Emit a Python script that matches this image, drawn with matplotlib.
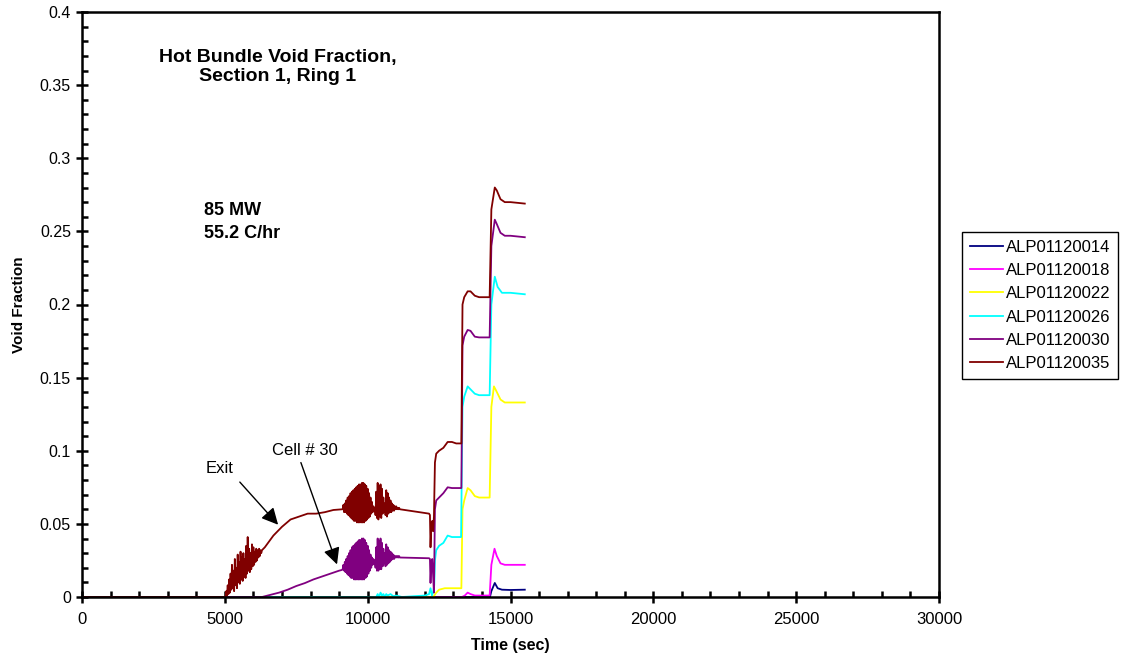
import numpy as np
import matplotlib
matplotlib.use("Agg")
import matplotlib.pyplot as plt
from matplotlib.ticker import MultipleLocator, FormatStrFormatter

plt.rcParams['font.family'] = ['Liberation Sans', 'DejaVu Sans']

# ---- data (time in sec, void fraction) ----
labels = ['ALP01120014', 'ALP01120018', 'ALP01120022',
          'ALP01120026', 'ALP01120030', 'ALP01120035']
colors = ['#000080', '#ff00ff', '#ffff00', '#00ffff', '#800080', '#800000']

# Exit (ALP01120035)
exit_t_start = [0, 5000]
exit_v_start = [0.0, 0.0]
exit_t_noise = np.arange(5025, 6301, 25)
exit_v_noise = [0.000, 0.004, 0.001, 0.008, 0.002, 0.012, 0.003, 0.016, 0.005, 0.022,
                0.006, 0.018, 0.004, 0.026, 0.008, 0.020, 0.006, 0.029, 0.010, 0.024,
                0.009, 0.031, 0.012, 0.027, 0.011, 0.030, 0.014, 0.026, 0.013, 0.035,
                0.016, 0.041, 0.018, 0.033, 0.017, 0.030, 0.019, 0.036, 0.021, 0.034,
                0.022, 0.031, 0.024, 0.033, 0.025, 0.032, 0.027, 0.033, 0.028, 0.032,
                0.030, 0.032]
exit_t_rise = [6400, 6700, 7000, 7300, 7600, 7900, 8200, 8500, 8800, 9100]
exit_v_rise = [0.034, 0.042, 0.048, 0.053, 0.055, 0.057, 0.057, 0.058, 0.0595, 0.060]
exit_t_osc = np.arange(9125, 11126, 25)
exit_v_osc = [0.060, 0.063, 0.058, 0.064, 0.058, 0.066, 0.057, 0.068, 0.056, 0.069,
              0.055, 0.071, 0.054, 0.072, 0.053, 0.073, 0.052, 0.074, 0.052, 0.075,
              0.051, 0.076, 0.051, 0.077, 0.051, 0.077, 0.051, 0.078, 0.051, 0.078,
              0.051, 0.077, 0.052, 0.076, 0.053, 0.074, 0.054, 0.071, 0.055, 0.068,
              0.057, 0.065, 0.058, 0.062, 0.060, 0.061, 0.056, 0.072, 0.054, 0.078,
              0.053, 0.076, 0.055, 0.077, 0.054, 0.074, 0.057, 0.068, 0.058, 0.064,
              0.056, 0.073, 0.055, 0.071, 0.057, 0.068, 0.058, 0.066, 0.058, 0.064,
              0.059, 0.063, 0.059, 0.062, 0.060, 0.062, 0.060, 0.061, 0.060, 0.061,
              0.060]
exit_t_end = [12150, 12180, 12200, 12230, 12260, 12290, 12320, 12355, 12400, 12500,
              12650, 12800, 12950, 13100, 13280, 13320, 13380, 13500, 13600, 13750,
              13900, 14050, 14270, 14330, 14450, 14520, 14650, 14800, 15000, 15500]
exit_v_end = [0.057, 0.056, 0.034, 0.050, 0.052, 0.045, 0.055, 0.092, 0.098, 0.100,
              0.102, 0.106, 0.106, 0.105, 0.105, 0.200, 0.205, 0.209, 0.209, 0.206,
              0.205, 0.205, 0.205, 0.265, 0.280, 0.278, 0.272, 0.270, 0.270, 0.269]

# Cell 30 (ALP01120030)
c30_t_rise = [0, 6300, 6600, 6900, 7200, 7500, 7800, 8100, 8400, 8700, 9000, 9100]
c30_v_rise = [0.0, 0.0, 0.0015, 0.003, 0.005, 0.0075, 0.0095, 0.012, 0.014, 0.016,
              0.018, 0.0185]
c30_t_osc = np.arange(9125, 11126, 25)
c30_v_osc = [0.019, 0.022, 0.018, 0.024, 0.017, 0.026, 0.016, 0.028, 0.015, 0.030,
             0.014, 0.032, 0.013, 0.034, 0.013, 0.035, 0.012, 0.036, 0.012, 0.037,
             0.012, 0.038, 0.012, 0.039, 0.012, 0.039, 0.012, 0.040, 0.012, 0.040,
             0.012, 0.039, 0.013, 0.037, 0.014, 0.035, 0.016, 0.032, 0.018, 0.029,
             0.020, 0.027, 0.022, 0.026, 0.023, 0.025, 0.020, 0.034, 0.018, 0.040,
             0.018, 0.038, 0.019, 0.040, 0.019, 0.037, 0.021, 0.033, 0.023, 0.030,
             0.021, 0.036, 0.022, 0.034, 0.023, 0.032, 0.024, 0.031, 0.025, 0.030,
             0.026, 0.029, 0.026, 0.028, 0.027, 0.028, 0.027, 0.028, 0.027, 0.028,
             0.027]
c30_t_end = [12150, 12180, 12200, 12230, 12260, 12290, 12320, 12355, 12400, 12500,
             12650, 12800, 12950, 13100, 13280, 13320, 13380, 13500, 13600, 13750,
             13900, 14050, 14270, 14330, 14450, 14520, 14650, 14800, 15000, 15500]
c30_v_end = [0.0265, 0.026, 0.0096, 0.024, 0.026, 0.015, 0.003, 0.060, 0.066, 0.068,
             0.071, 0.075, 0.0745, 0.0745, 0.0745, 0.172, 0.178, 0.1826, 0.182, 0.178,
             0.1775, 0.1775, 0.1775, 0.240, 0.258, 0.255, 0.249, 0.247, 0.247, 0.246]

c26_t = [0, 10300, 10350, 10400, 10450, 10500, 10550, 10600, 10650, 10700, 10800,
         10900, 11000, 11200, 11600, 12000, 12150, 12200, 12250, 12300, 12330, 12355,
         12400, 12500, 12650, 12800, 12950, 13100, 13270, 13320, 13380, 13500, 13600,
         13750, 13900, 14100, 14270, 14330, 14450, 14550, 14700, 15000, 15500]
c26_v = [0.0, 0.0, 0.002, 0.0, 0.003, 0.001, 0.002, 0.0, 0.002, 0.001, 0.002,
         0.0005, 0.001, 0.0, 0.0005, 0.001, 0.002, 0.006, 0.001, 0.004, 0.008, 0.025,
         0.032, 0.035, 0.037, 0.042, 0.041, 0.041, 0.041, 0.130, 0.137, 0.144, 0.142,
         0.139, 0.138, 0.138, 0.138, 0.200, 0.219, 0.212, 0.208, 0.208, 0.207]

c22_t = [0, 12300, 12400, 12500, 12700, 13000, 13280, 13320, 13380, 13500, 13600,
         13750, 13900, 14100, 14270, 14330, 14420, 14500, 14650, 14800, 15000, 15500]
c22_v = [0.0, 0.0, 0.003, 0.005, 0.006, 0.006, 0.006, 0.060, 0.066, 0.0745, 0.073,
         0.069, 0.068, 0.068, 0.068, 0.130, 0.144, 0.141, 0.135, 0.133, 0.133, 0.133]

c18_t = [0, 13300, 13400, 13500, 13600, 13750, 14000, 14270, 14330, 14440, 14520,
         14650, 14800, 15000, 15500]
c18_v = [0.0, 0.0, 0.001, 0.003, 0.002, 0.001, 0.001, 0.001, 0.022, 0.033, 0.028,
         0.023, 0.022, 0.022, 0.022]

c14_t = [0, 14280, 14330, 14450, 14550, 14700, 15000, 15500]
c14_v = [0.0, 0.0, 0.004, 0.0096, 0.006, 0.005, 0.0048, 0.005]

series = [
    (c14_t, c14_v),
    (c18_t, c18_v),
    (c22_t, c22_v),
    (c26_t, c26_v),
    (np.concatenate([c30_t_rise, c30_t_osc, c30_t_end]),
     np.concatenate([c30_v_rise, c30_v_osc, c30_v_end])),
    (np.concatenate([exit_t_start, exit_t_noise, exit_t_rise, exit_t_osc, exit_t_end]),
     np.concatenate([exit_v_start, exit_v_noise, exit_v_rise, exit_v_osc, exit_v_end])),
]

# ---- figure ----
fig = plt.figure(figsize=(11.21, 6.57), dpi=100)
ax = fig.add_axes([82 / 1121, 1 - 597 / 657, (939 - 82) / 1121, (597 - 12) / 657])

for (t, v), lab, col in zip(series, labels, colors):
    ax.plot(t, v, color=col, lw=1.3, label=lab)

ax.set_xlim(0, 30000)
ax.set_ylim(0, 0.4)
ax.xaxis.set_major_locator(MultipleLocator(5000))
ax.xaxis.set_minor_locator(MultipleLocator(1000))
ax.yaxis.set_major_locator(MultipleLocator(0.05))
ax.yaxis.set_minor_locator(MultipleLocator(0.01))
ax.yaxis.set_major_formatter(FormatStrFormatter('%g'))
ax.tick_params(which='major', direction='inout', length=9, width=1.8, labelsize=11.5)
ax.tick_params(axis='x', which='major', labelsize=12, pad=6)
ax.tick_params(which='minor', direction='in', length=4, width=1.8)
for s in ax.spines.values():
    s.set_linewidth(1.8)

ax.set_xlabel('Time (sec)', fontsize=11.5, fontweight='bold', labelpad=8)
ax.set_ylabel('Void Fraction', fontsize=11, fontweight='bold', labelpad=10)

ax.text(6860, 0.3625, 'Hot Bundle Void Fraction,\nSection 1, Ring 1', ha='center',
        va='center', fontsize=14, fontweight='bold', linespacing=1.15)
ax.text(4270, 0.2564, '85 MW\n55.2 C/hr', ha='left', va='center', fontsize=13,
        fontweight='bold', linespacing=1.4)

arrow = dict(arrowstyle='-|>', color='black', lw=1, mutation_scale=25)
ax.text(4830, 0.088, 'Exit', ha='center', va='center', fontsize=12)
ax.annotate('', xy=(6930, 0.048), xytext=(5460, 0.080), arrowprops=arrow)
ax.text(7800, 0.1005, 'Cell # 30', ha='center', va='center', fontsize=12)
ax.annotate('', xy=(8960, 0.0205), xytext=(7630, 0.0937), arrowprops=arrow)

fig.legend(loc='upper left', bbox_to_anchor=(962 / 1121, 1 - 232 / 657),
           borderaxespad=0, fancybox=False, edgecolor='black', framealpha=1,
           fontsize=12, labelspacing=0.5, handlelength=2.0, handletextpad=0.2,
           borderpad=0.45)

fig.savefig('out.png', dpi=100)
